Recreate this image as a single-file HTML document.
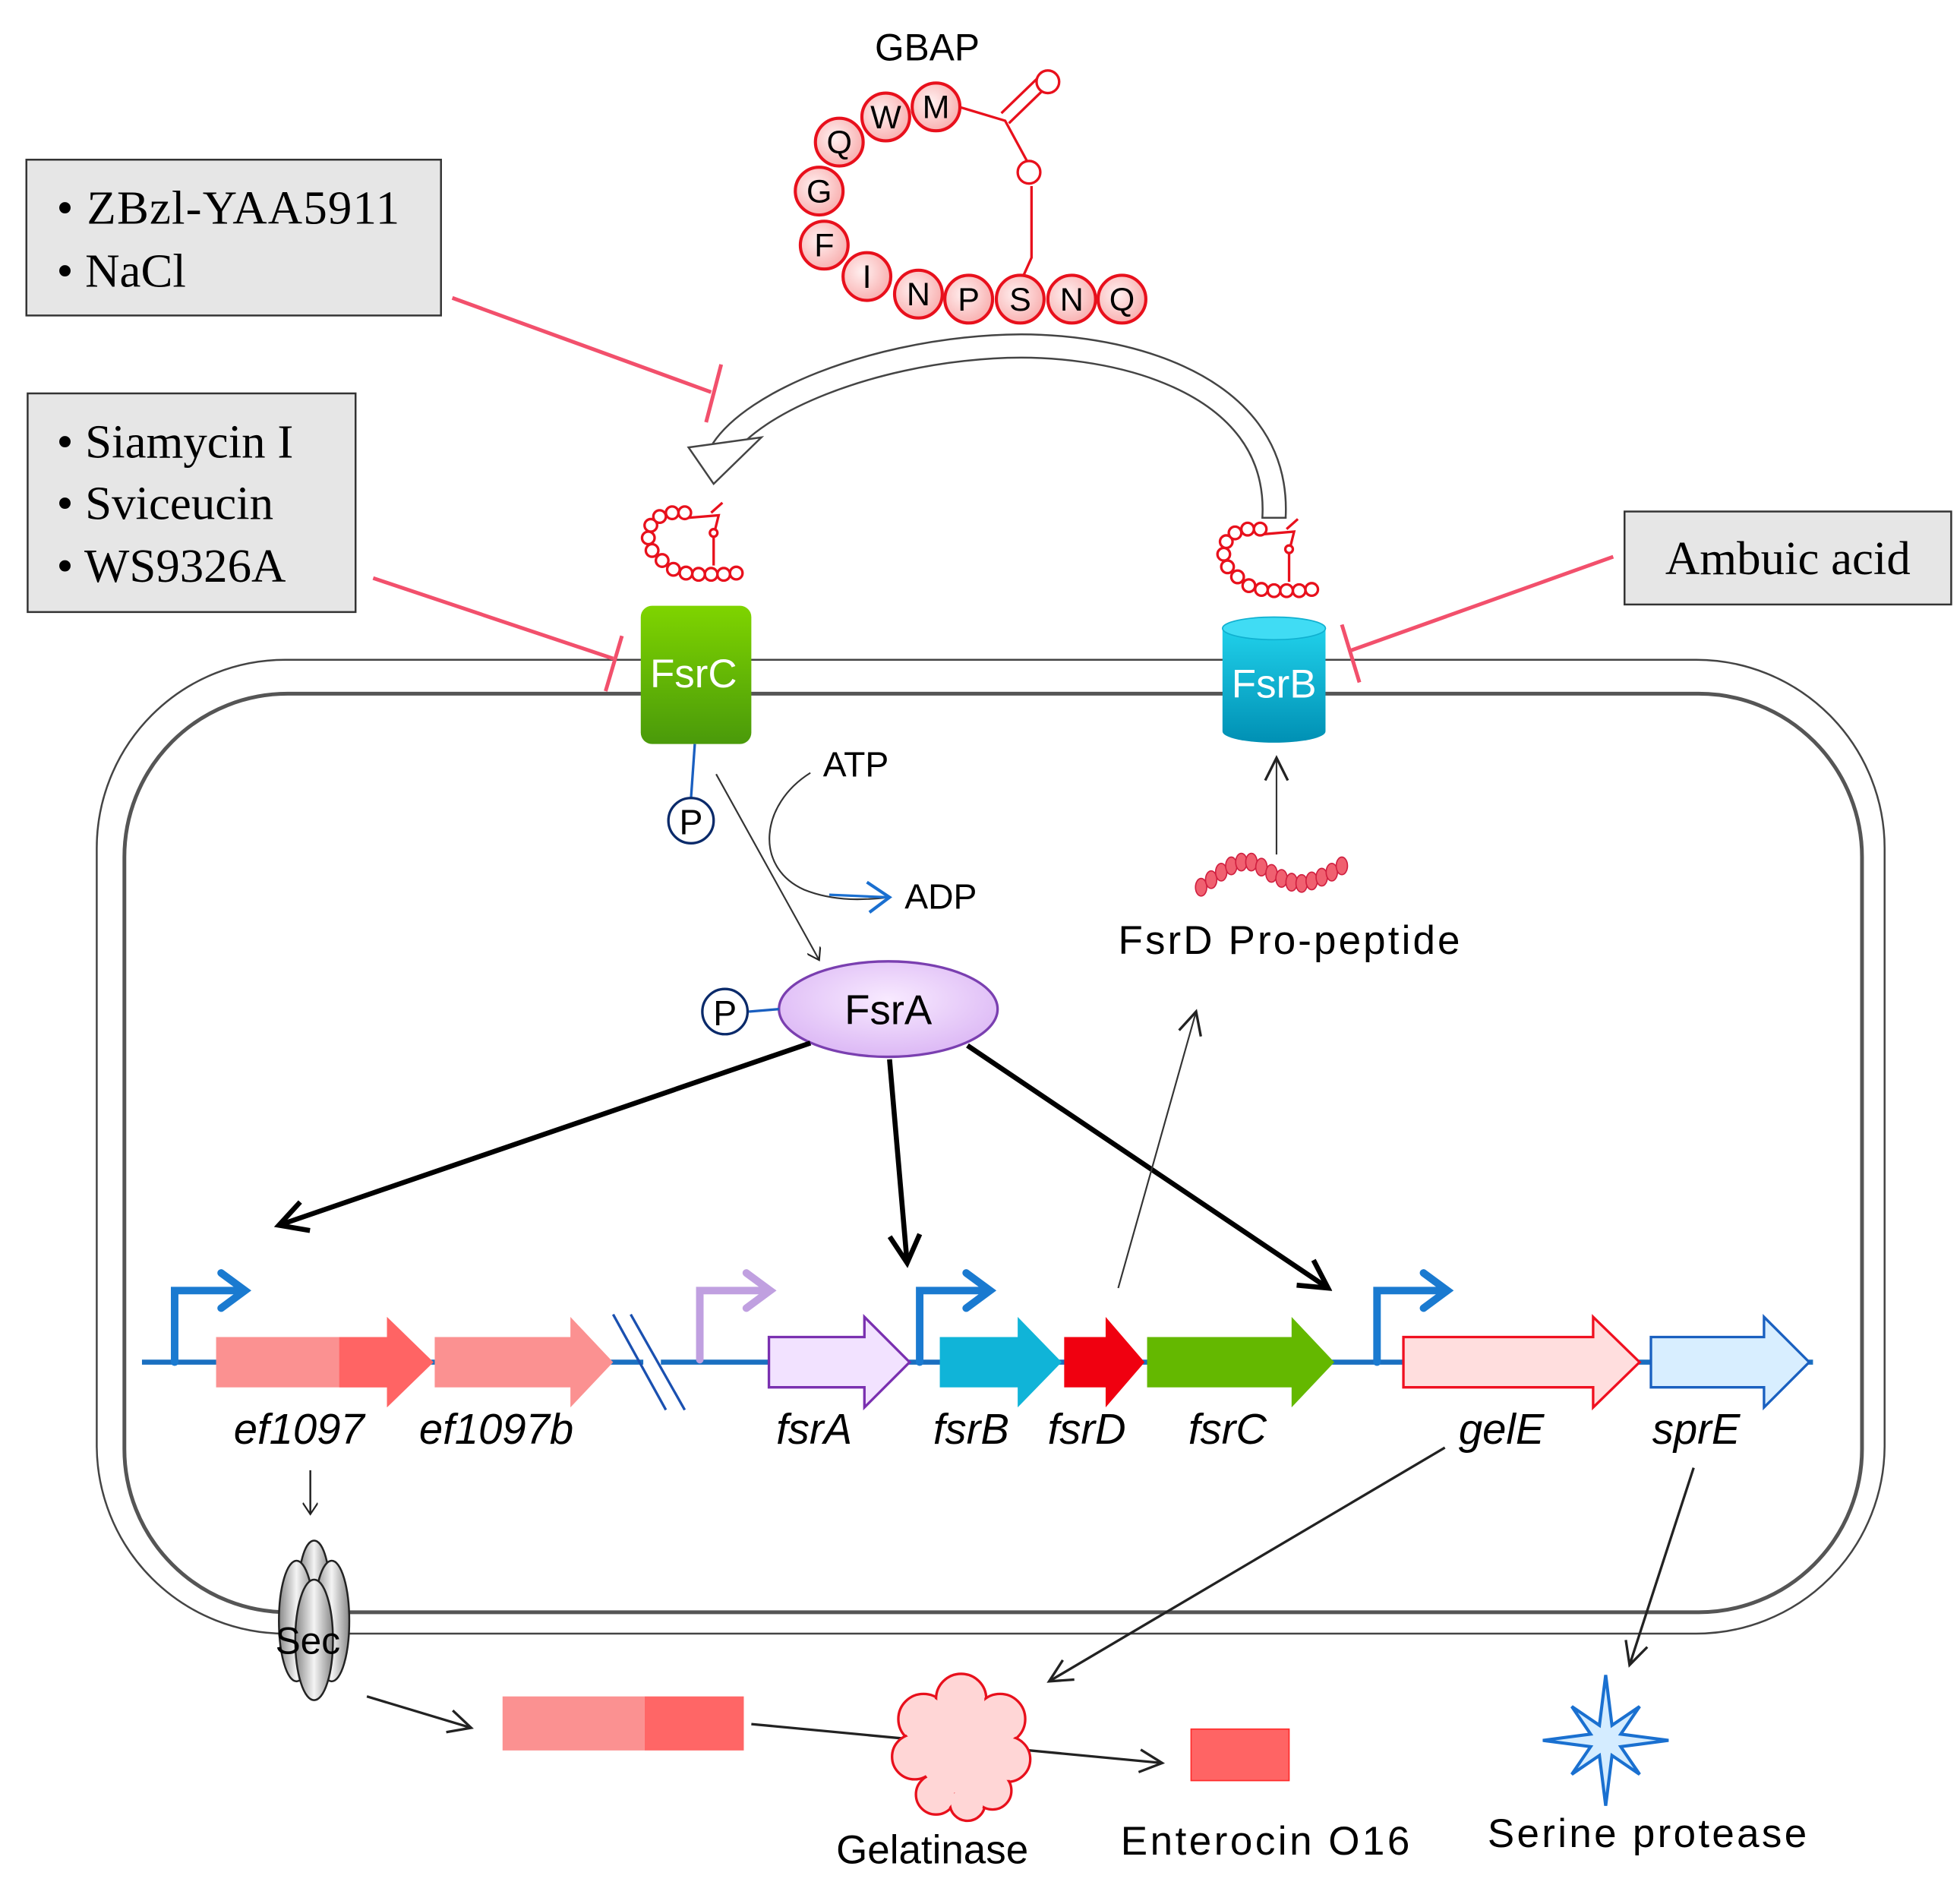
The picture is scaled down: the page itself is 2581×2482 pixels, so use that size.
<!DOCTYPE html>
<html><head><meta charset="utf-8"><style>html,body{margin:0;padding:0;background:#fff}svg{display:block}</style></head>
<body>
<svg width="2581" height="2482" viewBox="0 0 1560 1500" xmlns="http://www.w3.org/2000/svg" font-family="'Liberation Sans', sans-serif">
<defs>
<radialGradient id="pk" cx="0.4" cy="0.4" r="0.7"><stop offset="0" stop-color="#fff0f0"/><stop offset="1" stop-color="#f8a8a8"/></radialGradient>
<linearGradient id="gC" x1="0" y1="0" x2="0" y2="1"><stop offset="0" stop-color="#7fd400"/><stop offset="1" stop-color="#4a9a0a"/></linearGradient>
<linearGradient id="gB" x1="0" y1="0" x2="0" y2="1"><stop offset="0" stop-color="#20d0ea"/><stop offset="1" stop-color="#0090b4"/></linearGradient>
<radialGradient id="gA" cx="0.5" cy="0.4" r="0.6"><stop offset="0" stop-color="#f8eaff"/><stop offset="1" stop-color="#dcb8f5"/></radialGradient>
<linearGradient id="gS" x1="0" y1="0" x2="1" y2="0"><stop offset="0" stop-color="#888"/><stop offset="0.5" stop-color="#f4f4f4"/><stop offset="1" stop-color="#888"/></linearGradient>
<marker id="ao" markerWidth="12" markerHeight="12" refX="10" refY="6" orient="auto" markerUnits="userSpaceOnUse"><path d="M1,0 L10,6 L1,12" fill="none" stroke="#222" stroke-width="1.3"/></marker>
<marker id="ab" markerWidth="30" markerHeight="30" refX="26" refY="15" orient="auto" markerUnits="userSpaceOnUse"><path d="M4,3 L26,15 L4,27" fill="none" stroke="#000" stroke-width="4"/></marker>
<marker id="al" markerWidth="26" markerHeight="26" refX="22" refY="13" orient="auto" markerUnits="userSpaceOnUse"><path d="M4,4 L22,13 L4,22" fill="none" stroke="#222" stroke-width="2"/></marker>
</defs>

<rect x="77" y="525" width="1423" height="775" rx="150" fill="none" stroke="#444" stroke-width="1.5"/>
<rect x="99" y="552" width="1383" height="731" rx="130" fill="none" stroke="#555" stroke-width="3"/>

<text x="738" y="48" font-size="30" text-anchor="middle">GBAP</text>
<g stroke="#e8101c" stroke-width="2" fill="none">
<path d="M760,84 L800,96 L819,131"/>
<path d="M797,90 L828,60 M803,98 L834,68"/>
<path d="M821,148 L821,205 L812,225"/>
<circle cx="834" cy="65" r="9" fill="#fff"/>
<circle cx="819" cy="137" r="9" fill="#fff"/>
</g>
<g stroke="#e8101c" stroke-width="2.5" fill="url(#pk)">
<circle cx="668" cy="113" r="19"/><circle cx="705" cy="93" r="19"/><circle cx="745" cy="85" r="19"/>
<circle cx="652" cy="152" r="19"/><circle cx="656" cy="195" r="19"/><circle cx="690" cy="220" r="19"/>
<circle cx="731" cy="234" r="19"/><circle cx="771" cy="238" r="19"/><circle cx="812" cy="238" r="19"/>
<circle cx="853" cy="238" r="19"/><circle cx="893" cy="238" r="19"/>
</g>
<g font-size="26" text-anchor="middle" fill="#000">
<text x="668" y="122">Q</text><text x="705" y="102">W</text><text x="745" y="94">M</text>
<text x="652" y="161">G</text><text x="656" y="204">F</text><text x="690" y="229">I</text>
<text x="731" y="243">N</text><text x="771" y="247">P</text><text x="812" y="247">S</text>
<text x="853" y="247">N</text><text x="893" y="247">Q</text>
</g>

<g font-family="'Liberation Serif', serif" font-size="38" fill="#000">
<rect x="21" y="127" width="330" height="124" fill="#e6e6e6" stroke="#333" stroke-width="1.5"/>
<text x="45" y="178" textLength="273">• ZBzl-YAA5911</text><text x="45" y="228">• NaCl</text>
<rect x="22" y="313" width="261" height="174" fill="#e6e6e6" stroke="#333" stroke-width="1.5"/>
<text x="45" y="364">• Siamycin I</text><text x="45" y="413">• Sviceucin</text><text x="45" y="463">• WS9326A</text>
<rect x="1293" y="407" width="260" height="74" fill="#e6e6e6" stroke="#333" stroke-width="1.5"/>
<text x="1423" y="457" text-anchor="middle">Ambuic acid</text>
</g>

<g stroke="#f2506c" stroke-width="3" fill="none">
<path d="M360,237 L566,312"/><path d="M574,290 L562,336"/>
<path d="M297,460 L488,524"/><path d="M495,506 L482,550"/>
<path d="M1284,443 L1074,518"/><path d="M1068,497 L1082,543"/>
</g>

<path d="M1014,412 C1020,300 880,270 790,276 C690,282 600,320 575,358" fill="none" stroke="#444" stroke-width="20"/>
<path d="M1014,412 C1020,300 880,270 790,276 C690,282 600,320 575,358" fill="none" stroke="#fff" stroke-width="17"/>
<polygon points="548,356 606,348 568,385" fill="#fff" stroke="#444" stroke-width="1.5"/>
<path d="M1004,412 L1024,412" stroke="#444" stroke-width="1.5"/>

<g stroke="#e8101c" stroke-width="2" fill="#fff">
<g id="mini">
<path d="M548,412 L572,410 L568,426 L568,450" fill="none"/>
<path d="M566,408 L575,400" fill="none"/>
<circle cx="586" cy="456" r="5"/><circle cx="576" cy="457" r="5"/><circle cx="566" cy="457" r="5"/><circle cx="556" cy="457" r="5"/><circle cx="546" cy="456" r="5"/><circle cx="536" cy="453" r="5"/><circle cx="527" cy="446" r="5"/><circle cx="519" cy="438" r="5"/><circle cx="516" cy="428" r="5"/><circle cx="518" cy="418" r="5"/><circle cx="525" cy="411" r="5"/><circle cx="535" cy="408" r="5"/><circle cx="545" cy="408" r="5"/>
<circle cx="568" cy="424" r="3"/>
</g>
<use href="#mini" x="458" y="13"/>
</g>

<rect x="510" y="482" width="88" height="110" rx="9" fill="url(#gC)"/>
<text x="552" y="547" font-size="32" fill="#fff" text-anchor="middle">FsrC</text>
<path d="M973,500 L973,582 A41,9 0 0 0 1055,582 L1055,500 Z" fill="url(#gB)"/>
<ellipse cx="1014" cy="500" rx="41" ry="9" fill="#40dcf4" stroke="#10b0d0"/>
<text x="1014" y="555" font-size="32" fill="#fff" text-anchor="middle">FsrB</text>

<path d="M553,592 L550,635" stroke="#1a5fc0" stroke-width="2"/>
<circle cx="550" cy="653" r="18" fill="#fff" stroke="#0a2a6a" stroke-width="2"/>
<text x="550" y="664" font-size="28" text-anchor="middle">P</text>
<path d="M570,616 L652,764" stroke="#333" stroke-width="1.3" marker-end="url(#ao)" fill="none"/>
<path d="M645,615 C605,640 600,690 640,708 C665,718 690,716 708,714" fill="none" stroke="#333" stroke-width="1.3"/>
<path d="M690,702 L708,714 L692,726" fill="none" stroke="#1a6fd0" stroke-width="2.5"/>
<path d="M660,712 L706,714" stroke="#1a6fd0" stroke-width="2"/>
<text x="655" y="618" font-size="28">ATP</text>
<text x="720" y="723" font-size="28">ADP</text>

<ellipse cx="707" cy="803" rx="87" ry="38" fill="url(#gA)" stroke="#7a3fb0" stroke-width="2"/>
<text x="707" y="815" font-size="33" text-anchor="middle">FsrA</text>
<path d="M596,805 L620,803" stroke="#1a5fc0" stroke-width="2"/>
<circle cx="577" cy="805" r="18" fill="#fff" stroke="#0a2a6a" stroke-width="2"/>
<text x="577" y="816" font-size="28" text-anchor="middle">P</text>

<g fill="#f06070" stroke="#d02040" stroke-width="1">
<ellipse cx="956" cy="706" rx="4.5" ry="7"/><ellipse cx="964" cy="700" rx="4.5" ry="7"/><ellipse cx="972" cy="694" rx="4.5" ry="7"/><ellipse cx="980" cy="689" rx="4.5" ry="7"/><ellipse cx="988" cy="686" rx="4.5" ry="7"/><ellipse cx="996" cy="686" rx="4.5" ry="7"/><ellipse cx="1004" cy="690" rx="4.5" ry="7"/><ellipse cx="1012" cy="695" rx="4.5" ry="7"/><ellipse cx="1020" cy="699" rx="4.5" ry="7"/><ellipse cx="1028" cy="702" rx="4.5" ry="7"/><ellipse cx="1036" cy="703" rx="4.5" ry="7"/><ellipse cx="1044" cy="701" rx="4.5" ry="7"/><ellipse cx="1052" cy="698" rx="4.5" ry="7"/><ellipse cx="1060" cy="694" rx="4.5" ry="7"/><ellipse cx="1068" cy="689" rx="4.5" ry="7"/>
</g>
<path d="M1016,680 L1016,603" stroke="#333" stroke-width="1.3" marker-end="url(#al)" fill="none"/>
<text x="1026" y="759" font-size="32" text-anchor="middle" textLength="272">FsrD Pro-peptide</text>

<g stroke="#000" stroke-width="4" fill="none">
<path d="M645,830 L222,975" marker-end="url(#ab)"/>
<path d="M708,843 L722,1005" marker-end="url(#ab)"/>
<path d="M770,832 L1057,1025" marker-end="url(#ab)"/>
</g>
<path d="M890,1025 L952,805" stroke="#333" stroke-width="1.3" marker-end="url(#al)" fill="none"/>

<path d="M113,1084 L1443,1084" stroke="#1a6fc0" stroke-width="4"/>
<rect x="512" y="1070" width="14" height="28" fill="#fff"/>
<path d="M488,1046 L530,1122 M502,1046 L545,1122" stroke="#1a50b0" stroke-width="2"/>
<g fill="none" stroke-width="6" stroke-linecap="round">
<path d="M139,1084 L139,1027 L190,1027 M176,1013 L195,1027 L176,1041" stroke="#1a7ad0"/>
<path d="M557,1082 L557,1027 L608,1027 M594,1013 L613,1027 L594,1041" stroke="#c0a0e0"/>
<path d="M732,1084 L732,1027 L783,1027 M769,1013 L788,1027 L769,1041" stroke="#1a7ad0"/>
<path d="M1096,1084 L1096,1027 L1147,1027 M1133,1013 L1152,1027 L1133,1041" stroke="#1a7ad0"/>
</g>
<polygon points="172,1064 308,1064 308,1048 345,1084 308,1120 308,1104 172,1104" fill="#fb9191"/>
<polygon points="270,1064 308,1064 308,1048 345,1084 308,1120 308,1104 270,1104" fill="#ff6464"/>
<polygon points="346,1064 454,1064 454,1048 488,1084 454,1120 454,1104 346,1104" fill="#fb9191"/>
<polygon points="612,1064 688,1064 688,1048 724,1084 688,1120 688,1104 612,1104" fill="#f2e2ff" stroke="#7a30b0" stroke-width="2"/>
<polygon points="748,1064 810,1064 810,1048 845,1084 810,1120 810,1104 748,1104" fill="#10b4d8"/>
<polygon points="847,1064 880,1064 880,1048 911,1084 880,1120 880,1104 847,1104" fill="#f00010"/>
<polygon points="913,1064 1028,1064 1028,1048 1062,1084 1028,1120 1028,1104 913,1104" fill="#64b800"/>
<polygon points="1117,1064 1268,1064 1268,1048 1305,1084 1268,1120 1268,1104 1117,1104" fill="#ffdede" stroke="#f01020" stroke-width="2"/>
<polygon points="1314,1064 1404,1064 1404,1048 1440,1084 1404,1120 1404,1104 1314,1104" fill="#d8eeff" stroke="#1a60c0" stroke-width="2"/>
<g font-size="34" font-style="italic" text-anchor="middle">
<text x="238" y="1149">ef1097</text><text x="395" y="1149">ef1097b</text><text x="648" y="1149">fsrA</text>
<text x="773" y="1149">fsrB</text><text x="865" y="1149">fsrD</text><text x="977" y="1149">fsrC</text>
<text x="1195" y="1149">gelE</text><text x="1350" y="1149">sprE</text>
</g>

<path d="M247,1170 L247,1205" stroke="#222" stroke-width="1.5" marker-end="url(#ao)"/>
<g stroke="#222" stroke-width="1.5" fill="url(#gS)">
<ellipse cx="250" cy="1262" rx="12" ry="36"/>
<ellipse cx="236" cy="1290" rx="14" ry="48"/>
<ellipse cx="264" cy="1290" rx="14" ry="48"/>
<ellipse cx="250" cy="1305" rx="15" ry="48"/>
</g>
<text x="245" y="1316" font-size="30" text-anchor="middle">Sec</text>

<path d="M292,1350 L375,1375" stroke="#222" stroke-width="2" marker-end="url(#al)"/>
<rect x="400" y="1350" width="113" height="43" fill="#fb9191"/>
<rect x="513" y="1350" width="79" height="43" fill="#ff6666"/>
<path d="M598,1372 L925,1403" stroke="#222" stroke-width="2" marker-end="url(#al)"/>
<g fill="#ffd6d6" stroke="#e8101c" stroke-width="2">
<circle cx="735" cy="1368" r="20"/><circle cx="765" cy="1352" r="20"/><circle cx="796" cy="1368" r="20"/>
<circle cx="728" cy="1398" r="18"/><circle cx="802" cy="1400" r="18"/>
<circle cx="745" cy="1428" r="16"/><circle cx="770" cy="1435" r="14"/><circle cx="790" cy="1425" r="15"/>
</g>
<g fill="#ffd6d6">
<circle cx="735" cy="1368" r="18.5"/><circle cx="765" cy="1352" r="18.5"/><circle cx="796" cy="1368" r="18.5"/>
<circle cx="728" cy="1398" r="16.5"/><circle cx="802" cy="1400" r="16.5"/>
<circle cx="745" cy="1428" r="14.5"/><circle cx="770" cy="1435" r="12.5"/><circle cx="790" cy="1425" r="13.5"/>
<circle cx="765" cy="1392" r="35"/>
</g>
<text x="742" y="1483" font-size="32" text-anchor="middle">Gelatinase</text>
<path d="M1150,1152 L835,1338" stroke="#222" stroke-width="2" marker-end="url(#al)"/>
<rect x="948" y="1376" width="78" height="41" fill="#ff6464" stroke="#ff2a2a"/>
<text x="1007" y="1476" font-size="32" text-anchor="middle" textLength="230">Enterocin O16</text>
<path d="M1348,1168 L1297,1325" stroke="#222" stroke-width="2" marker-end="url(#al)"/>
<polygon points="1278,1333 1283,1373 1305,1358 1290,1380 1328,1385 1290,1390 1305,1412 1283,1397 1278,1437 1273,1397 1251,1412 1266,1390 1228,1385 1266,1380 1251,1358 1273,1373" fill="#d4ecff" stroke="#1a70d0" stroke-width="2.5"/>
<text x="1311" y="1470" font-size="32" text-anchor="middle" textLength="254">Serine protease</text>
</svg>
</body></html>
